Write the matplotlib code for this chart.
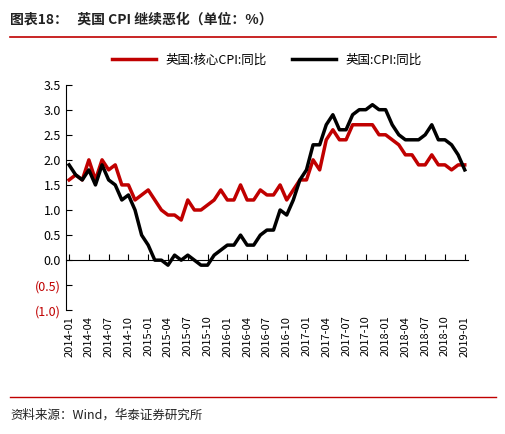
import matplotlib
matplotlib.use("Agg")
import matplotlib.pyplot as plt
import numpy as np

plt.rcParams['font.family'] = ['Noto Sans CJK SC', 'DejaVu Sans']

months = [f"{y}-{m:02d}" for y in range(2014, 2020) for m in range(1, 13)][:61]
cpi = [1.9,1.7,1.6,1.8,1.5,1.9,1.6,1.5,1.2,1.3,1.0,0.5,
       0.3,0.0,0.0,-0.1,0.1,0.0,0.1,0.0,-0.1,-0.1,0.1,0.2,
       0.3,0.3,0.5,0.3,0.3,0.5,0.6,0.6,1.0,0.9,1.2,1.6,
       1.8,2.3,2.3,2.7,2.9,2.6,2.6,2.9,3.0,3.0,3.1,3.0,
       3.0,2.7,2.5,2.4,2.4,2.4,2.5,2.7,2.4,2.4,2.3,2.1,
       1.8]
core = [1.6,1.7,1.6,2.0,1.6,2.0,1.8,1.9,1.5,1.5,1.2,1.3,
        1.4,1.2,1.0,0.9,0.9,0.8,1.2,1.0,1.0,1.1,1.2,1.4,
        1.2,1.2,1.5,1.2,1.2,1.4,1.3,1.3,1.5,1.2,1.4,1.6,
        1.6,2.0,1.8,2.4,2.6,2.4,2.4,2.7,2.7,2.7,2.7,2.5,
        2.5,2.4,2.3,2.1,2.1,1.9,1.9,2.1,1.9,1.9,1.8,1.9,
        1.9]
yticks = [-1.0,-0.5,0.0,0.5,1.0,1.5,2.0,2.5,3.0,3.5]

fig = plt.figure(figsize=(5.06,4.34), dpi=100)
ax = fig.add_axes([0.13, 0.285, 0.795, 0.52])
x = np.arange(len(months))
ax.plot(x, core, color='#C00000', lw=2.5, label='英国:核心CPI:同比')
ax.plot(x, cpi, color='black', lw=2.5, label='英国:CPI:同比')
ax.spines['top'].set_visible(False)
ax.spines['right'].set_visible(False)
ax.spines['bottom'].set_position(('data', 0))
ax.set_xlim(-0.5, len(months)-0.5)
ax.set_ylim(-1.0, 3.5)
ax.set_yticks(yticks)
labs = [f"({abs(v):.1f})" if v < 0 else f"{v:.1f}" for v in yticks]
ax.set_yticklabels(labs, fontsize=9)
for t, v in zip(ax.get_yticklabels(), yticks):
    if v < 0:
        t.set_color('#C00000')
ax.set_xticks(x[::3])
ax.set_xticklabels(months[::3], rotation=90, fontsize=8)
ax.tick_params(axis='x', direction='in', length=4, pad=40)
ax.tick_params(axis='y', direction='in', length=4)
ax.legend(loc='lower center', bbox_to_anchor=(0.5, 1.03), ncol=2, frameon=False, fontsize=9, handlelength=3.5)

fig.text(0.02, 0.945, "图表18：   英国 CPI 继续恶化（单位：%）", fontsize=10, fontweight='bold', color='#222222')
fig.add_artist(plt.Line2D([0.02, 0.98], [0.915, 0.915], color='#C00000', lw=1.2))
fig.add_artist(plt.Line2D([0.02, 0.98], [0.085, 0.085], color='#C00000', lw=1.0))
fig.text(0.02, 0.035, "资料来源：Wind，华泰证券研究所", fontsize=9, color='#222222')
fig.savefig("out.png", dpi=100)
